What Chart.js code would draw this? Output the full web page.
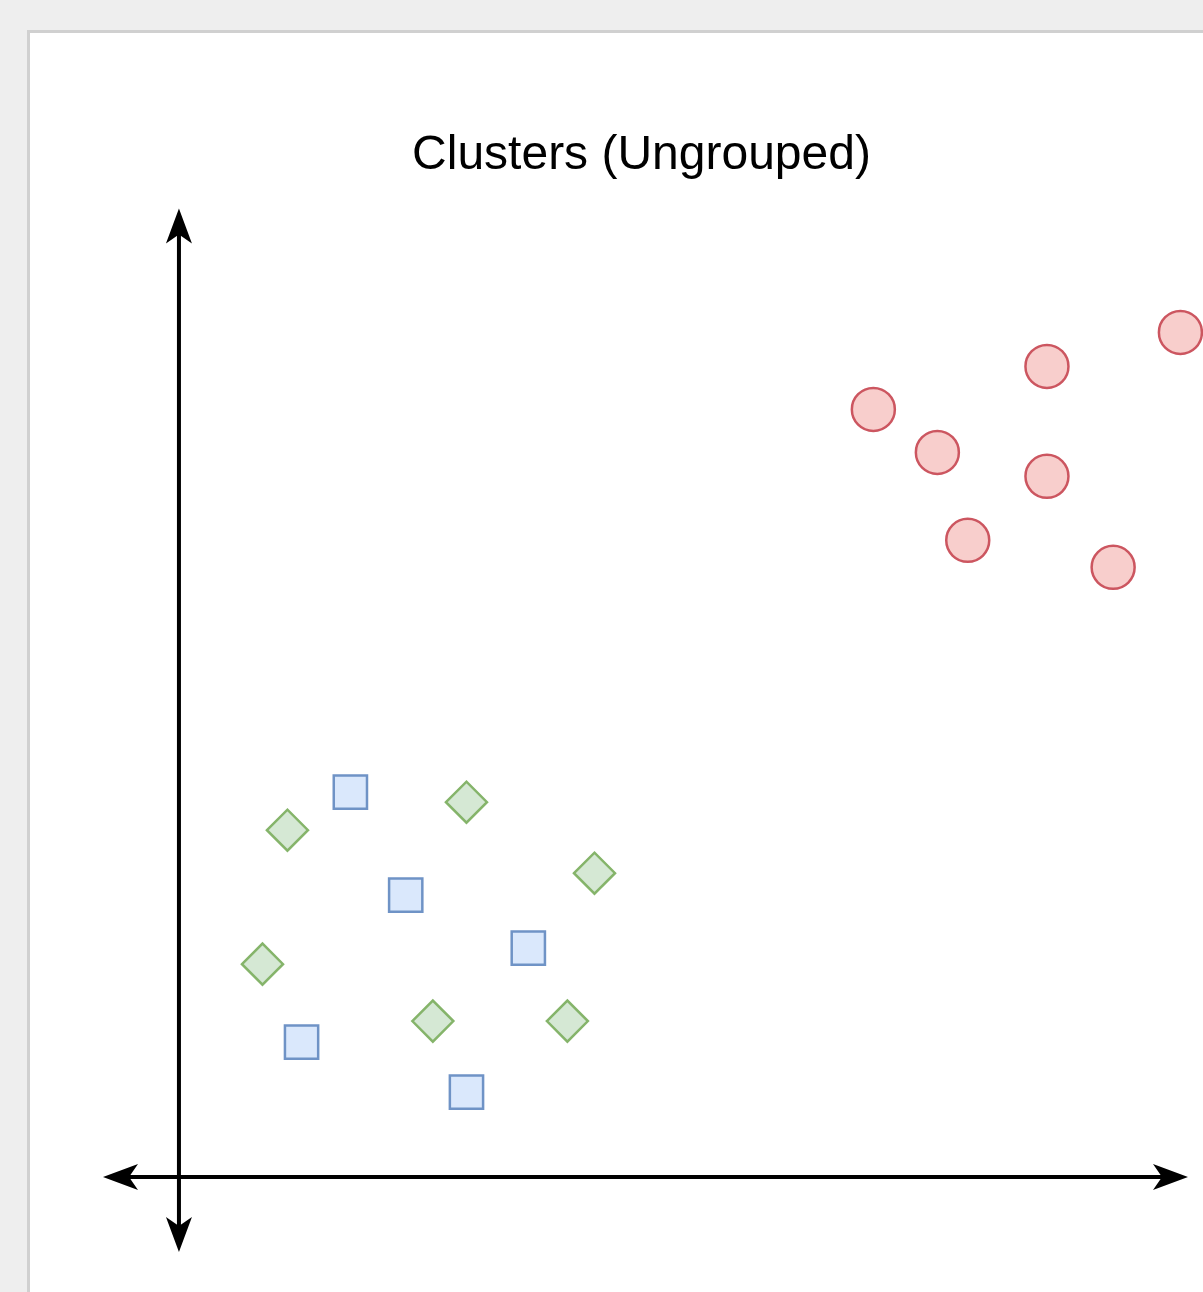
<!DOCTYPE html>
<html>
<head>
<meta charset="utf-8">
<script src="https://cdn.jsdelivr.net/npm/chart.js@4/dist/chart.umd.min.js"></script>
<style>
  html, body { margin: 0; padding: 0; background: #eeeeee; overflow: hidden; }
  #panel { position: absolute; left: 27px; top: 30px; width: 1300px; height: 1400px;
           background: #ffffff; border-left: 3px solid #d0d0d0; border-top: 3px solid #d0d0d0; }
  #c { position: absolute; left: 0; top: 0; }
</style>
</head>
<body>
<div id="panel"></div>
<canvas id="c" width="1203" height="1292"></canvas>
<script>
const chartTitle = "Clusters (Ungrouped)";

// Axis arrow extents (data units); the axes cross at (0, 0)
const xAxisFrom = -7, xAxisTo = 93;
const yAxisFrom = -7.5, yAxisTo = 96.9;

// Red circles (upper-right cluster)
const redX = [64.0, 69.9, 80.0, 80.0, 72.7, 86.1, 92.3];
const redY = [76.8, 72.5, 81.1, 70.1, 63.7, 61.0, 84.5];

// Blue squares (lower-left cluster)
const blueX = [15.8, 20.9, 32.2, 11.3, 26.5];
const blueY = [38.5, 28.2, 22.9, 13.5, 8.5];

// Green diamonds (lower-left cluster)
const greenX = [10.0, 26.5, 38.3, 7.7, 23.4, 35.8];
const greenY = [34.7, 37.5, 30.4, 21.3, 15.6, 15.6];

const toPoints = (xs, ys) => xs.map((x, i) => ({ x: x, y: ys[i] }));

function arrowHead(ctx, tx, ty, dx, dy) {
  const len = 35, half = 13, notch = 9;
  const px = -dy, py = dx;
  const bx = tx - dx * len, by = ty - dy * len;
  const nx = tx - dx * (len - notch), ny = ty - dy * (len - notch);
  ctx.beginPath();
  ctx.moveTo(tx, ty);
  ctx.lineTo(bx + px * half, by + py * half);
  ctx.lineTo(nx, ny);
  ctx.lineTo(bx - px * half, by - py * half);
  ctx.closePath();
  ctx.fill();
}

const axesPlugin = {
  id: 'arrowAxes',
  beforeDatasetsDraw(chart) {
    const ctx = chart.ctx;
    const xs = chart.scales.x, ys = chart.scales.y;
    const x0 = xs.getPixelForValue(0);
    const y0 = ys.getPixelForValue(0);
    const xl = xs.getPixelForValue(xAxisFrom), xr = xs.getPixelForValue(xAxisTo);
    const yb = ys.getPixelForValue(yAxisFrom), yt = ys.getPixelForValue(yAxisTo);
    ctx.save();
    ctx.strokeStyle = '#000';
    ctx.fillStyle = '#000';
    ctx.lineWidth = 4;
    ctx.beginPath();
    ctx.moveTo(xl + 20, y0); ctx.lineTo(xr - 20, y0);
    ctx.moveTo(x0, yt + 20); ctx.lineTo(x0, yb - 20);
    ctx.stroke();
    arrowHead(ctx, xl, y0, -1, 0);
    arrowHead(ctx, xr, y0, 1, 0);
    arrowHead(ctx, x0, yt, 0, -1);
    arrowHead(ctx, x0, yb, 0, 1);
    ctx.restore();
  }
};

new Chart(document.getElementById('c'), {
  type: 'scatter',
  data: {
    datasets: [
      { label: 'Red', data: toPoints(redX, redY), pointStyle: 'circle', pointRadius: 21.5,
        backgroundColor: '#f8cecc', borderColor: '#cc5660', borderWidth: 2.5, clip: false },
      { label: 'Blue', data: toPoints(blueX, blueY), pointStyle: 'rect', pointRadius: 23.5,
        backgroundColor: '#dae8fc', borderColor: '#6f93c6', borderWidth: 2.5, clip: false },
      { label: 'Green', data: toPoints(greenX, greenY), pointStyle: 'rectRot', pointRadius: 20.5,
        backgroundColor: '#d5e8d4', borderColor: '#85b46a', borderWidth: 2.5, clip: false }
    ]
  },
  options: {
    responsive: false,
    animation: false,
    devicePixelRatio: 1,
    events: [],
    layout: { autoPadding: false, padding: { left: 95, right: 15, top: 100, bottom: 40 } },
    scales: {
      x: { type: 'linear', min: -7.737, max: 93, display: false },
      y: { type: 'linear', min: -7.5, max: 96.9, display: false }
    },
    plugins: {
      legend: { display: false },
      tooltip: { enabled: false },
      title: {
        display: true,
        text: chartTitle,
        color: '#000000',
        font: { family: "'Liberation Sans', Arial, sans-serif", size: 48, weight: 'normal', lineHeight: 1.2 },
        padding: { top: 27, bottom: 23.9 }
      }
    }
  },
  plugins: [axesPlugin]
});
</script>
</body>
</html>
